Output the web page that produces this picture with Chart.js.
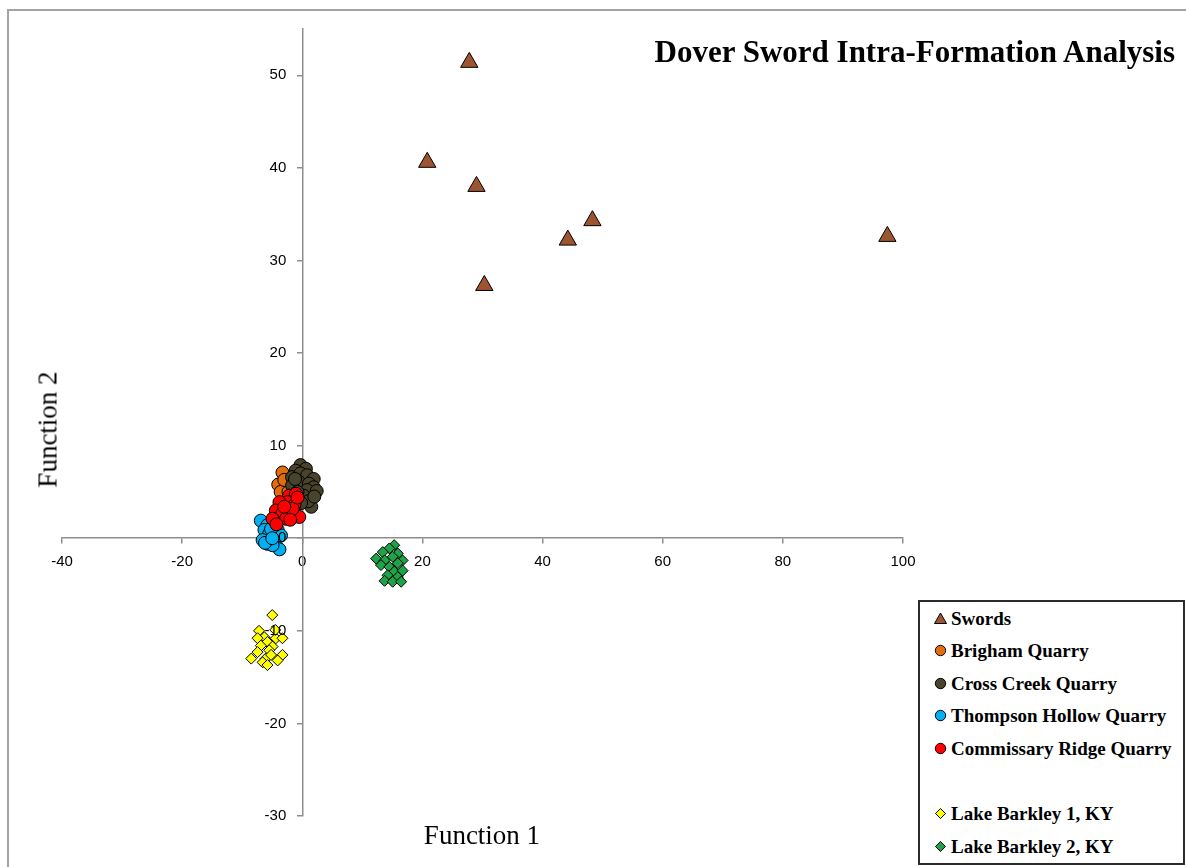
<!DOCTYPE html>
<html>
<head>
<meta charset="utf-8">
<title>Dover Sword Intra-Formation Analysis</title>
<script src="https://cdn.jsdelivr.net/npm/chart.js@4/dist/chart.umd.min.js"></script>
<style>
  html, body { margin: 0; padding: 0; background: #fff; }
  #wrap { position: relative; width: 1186px; height: 867px; overflow: hidden; }
  #frame { position: absolute; left: 7px; top: 9px; width: 1190px; height: 870px;
           border-left: 2px solid #a3a3a3; border-top: 2px solid #a3a3a3; }
  #c { position: absolute; left: 0; top: 0; }
  .serif { font-family: "Liberation Serif", "DejaVu Serif", serif; color: #000; }
  #title { position: absolute; right: 11px; top: 36px; font-size: 31px; line-height: 31px;
           font-weight: bold; white-space: nowrap; }
  #xtitle { position: absolute; left: 482px; top: 822px; font-size: 27px; line-height: 27px;
            transform: translateX(-50%); white-space: nowrap; }
  #ytitle { position: absolute; left: -12px; top: 416px; width: 120px; height: 27px; text-align: center;
            font-size: 27px; line-height: 27px; transform: rotate(-90deg); white-space: nowrap; }
  #legend { position: absolute; left: 918px; top: 600px; width: 263px; height: 261px;
            border: 2px solid #2b2b2b; background: #fff; }
  .item { position: absolute; left: 0; height: 19px; display: flex; align-items: center;
          font-size: 19px; line-height: 19px; font-weight: bold; white-space: nowrap; }
  .item svg { margin-left: 14px; margin-right: 4px; }
</style>
</head>
<body>
<div id="wrap">
  <div id="frame"></div>
  <canvas id="c" width="1186" height="867"></canvas>
  <div id="title" class="serif">Dover Sword Intra-Formation Analysis</div>
  <div id="xtitle" class="serif">Function 1</div>
  <div id="ytitle" class="serif">Function 2</div>
  <div id="legend" class="serif"></div>
</div>
<script>
// Discriminant function scores (Function 1, Function 2) per group
const swordsX = [27.8, 20.8, 29.0, 48.3, 44.2, 97.4, 30.3];
const swordsY = [51.4, 40.6, 38.0, 34.3, 32.2, 32.6, 27.3];

const brighamX = [-3.3, -4.0, -3.6, -2.3, -3.0, -2.5, -1.5, -3.5];
const brighamY = [7.1, 5.8, 5.0, 5.0, 6.3, 4.0, 4.5, 3.5];

const crossCreekX = [-0.3, 0.6, -1.1, -1.7, -0.3, 0.8, 1.9, -0.6, 1.1, 1.9, 0.8, -1.7, 2.4, 1.5, -1.2, 0.2, -0.8, 1.0, 2.0, -0.2];
const crossCreekY = [7.9, 7.5, 7.3, 6.6, 7.0, 6.8, 6.4, 6.1, 5.9, 5.5, 5.2, 5.7, 5.1, 3.4, 6.4, 4.6, 5.0, 4.0, 4.5, 3.8];

const thompsonX = [-6.9, -5.8, -6.3, -5.5, -6.6, -5.8, -4.4, -3.8, -4.95, -4.1, -3.55, -4.7, -6.2, -5.2, -5.0];
const thompsonY = [1.9, 1.4, 0.9, 0.5, -0.2, -0.6, -0.2, -1.2, -0.75, 0.9, 0.3, 1.9, -0.5, 1.0, 0.0];

const commissaryX = [-2.2, -1.05, -2.45, -3.8, -1.3, -4.4, -3.3, -1.9, -0.5, -4.95, -2.7, -1.6, -0.8, -4.3, -3.0, -2.0];
const commissaryY = [4.6, 4.8, 3.9, 3.9, 3.6, 3.0, 2.7, 2.7, 2.3, 2.1, 2.1, 3.2, 4.4, 1.5, 3.4, 2.0];

const barkley1X = [-5.0, -4.4, -3.3, -7.2, -6.3, -7.45, -5.8, -6.9, -4.95, -7.45, -5.5, -3.3, -8.5, -6.1, -5.2, -6.6, -5.8, -4.1, -4.5];
const barkley1Y = [-8.3, -10.8, -10.8, -10.0, -10.7, -10.8, -11.2, -11.6, -11.7, -12.3, -12.1, -12.6, -13.0, -13.0, -12.6, -13.4, -13.7, -13.2, -9.9];

const barkley2X = [15.3, 14.5, 13.4, 12.3, 15.9, 15.05, 13.7, 16.7, 13.1, 15.9, 14.5, 15.3, 16.7, 14.2, 15.9, 13.7, 15.05, 16.45];
const barkley2Y = [-0.75, -1.1, -1.5, -2.2, -1.65, -2.0, -2.4, -2.4, -2.9, -2.7, -3.1, -3.6, -3.5, -4.0, -4.2, -4.6, -4.7, -4.7];

const xTickValues = [-40, -20, 0, 20, 40, 60, 80, 100];
const yTickValues = [-30, -20, -10, 0, 10, 20, 30, 40, 50];

const seriesNames = ['Swords', 'Brigham Quarry', 'Cross Creek Quarry', 'Thompson Hollow Quarry',
                     'Commissary Ridge Quarry', 'Lake Barkley 1, KY', 'Lake Barkley 2, KY'];

const series = [
  { name: seriesNames[0], xs: swordsX, ys: swordsY, color: '#9c5530', shape: 'triangle', r: 10, slot: 0 },
  { name: seriesNames[1], xs: brighamX, ys: brighamY, color: '#e46c0a', shape: 'circle', r: 6.5, slot: 1 },
  { name: seriesNames[2], xs: crossCreekX, ys: crossCreekY, color: '#48432b', shape: 'circle', r: 6.5, slot: 2 },
  { name: seriesNames[3], xs: thompsonX, ys: thompsonY, color: '#00b0f0', shape: 'circle', r: 6.5, slot: 3 },
  { name: seriesNames[4], xs: commissaryX, ys: commissaryY, color: '#ff0000', shape: 'circle', r: 6.5, slot: 4 },
  { name: seriesNames[5], xs: barkley1X, ys: barkley1Y, color: '#ffff00', shape: 'rectRot', r: 5.5, slot: 6 },
  { name: seriesNames[6], xs: barkley2X, ys: barkley2Y, color: '#1da348', shape: 'rectRot', r: 5.5, slot: 7 }
];

// later series sit on top of earlier ones
const datasets = series.map((s, i) => ({
  label: s.name,
  data: s.xs.map((x, k) => ({ x: x, y: s.ys[k] })),
  pointStyle: s.shape,
  pointRadius: s.r,
  pointBackgroundColor: s.color,
  pointBorderColor: '#000',
  pointBorderWidth: 1,
  showLine: false,
  order: series.length - i
}));

const axisGray = '#8e8e8e';
const tickFont = { family: 'Liberation Sans', size: 15 };

// value labels for the vertical axis, set off to the left of its tick marks
const yAxisLabels = {
  id: 'yAxisLabels',
  afterDatasetsDraw(chart) {
    const xs = chart.scales.x, ys = chart.scales.y, ctx = chart.ctx;
    const x0 = xs.getPixelForValue(0);
    ctx.save();
    ctx.font = tickFont.size + 'px "' + tickFont.family + '"';
    ctx.fillStyle = '#000';
    ctx.textAlign = 'right';
    ctx.textBaseline = 'middle';
    yTickValues.forEach(v => ctx.fillText(String(v), x0 - 16, ys.getPixelForValue(v)));
    ctx.restore();
  }
};

new Chart(document.getElementById('c'), {
  type: 'scatter',
  data: { datasets: datasets },
  plugins: [yAxisLabels],
  options: {
    responsive: false,
    animation: false,
    devicePixelRatio: 1,
    layout: { padding: { left: 62, right: 283, top: 29, bottom: 51 } },
    plugins: { legend: { display: false }, tooltip: { enabled: false }, title: { display: false } },
    scales: {
      x: {
        type: 'linear', position: { y: 0 }, min: -40, max: 100,
        afterBuildTicks: (scale) => { scale.ticks = xTickValues.map(v => ({ value: v })); },
        grid: { drawOnChartArea: false, drawTicks: true, tickLength: 5, color: axisGray, lineWidth: 1.5 },
        border: { display: true, color: axisGray, width: 1.5 },
        ticks: { padding: 10, color: '#000', font: tickFont, maxRotation: 0, autoSkip: false }
      },
      y: {
        type: 'linear', position: { x: 0 }, min: -30, max: 55,
        afterBuildTicks: (scale) => { scale.ticks = yTickValues.map(v => ({ value: v })); },
        grid: { drawOnChartArea: false, drawTicks: true, tickLength: 5, color: axisGray, lineWidth: 1.5 },
        border: { display: true, color: axisGray, width: 1.5 },
        ticks: { display: false, autoSkip: false }
      }
    }
  }
});

// legend entries with small markers
function markerSvg(s) {
  const size = 13, c = size / 2;
  let shape;
  if (s.shape === 'triangle') {
    shape = `<polygon points="${c},1 ${size - 0.5},${size - 1.5} 0.5,${size - 1.5}" fill="${s.color}" stroke="#000" stroke-width="1"/>`;
  } else if (s.shape === 'rectRot') {
    shape = `<polygon points="${c},1.5 ${size - 1.5},${c} ${c},${size - 1.5} 1.5,${c}" fill="${s.color}" stroke="#000" stroke-width="1"/>`;
  } else {
    shape = `<circle cx="${c}" cy="${c}" r="5.2" fill="${s.color}" stroke="#000" stroke-width="1"/>`;
  }
  return `<svg width="${size}" height="${size}" viewBox="0 0 ${size} ${size}">${shape}</svg>`;
}
const legend = document.getElementById('legend');
series.forEach(s => {
  const row = document.createElement('div');
  row.className = 'item';
  row.style.top = (18 - 2 - 9.5 + s.slot * 32.6) + 'px';
  row.innerHTML = markerSvg(s) + '<span>' + s.name + '</span>';
  legend.appendChild(row);
});
</script>
</body>
</html>
